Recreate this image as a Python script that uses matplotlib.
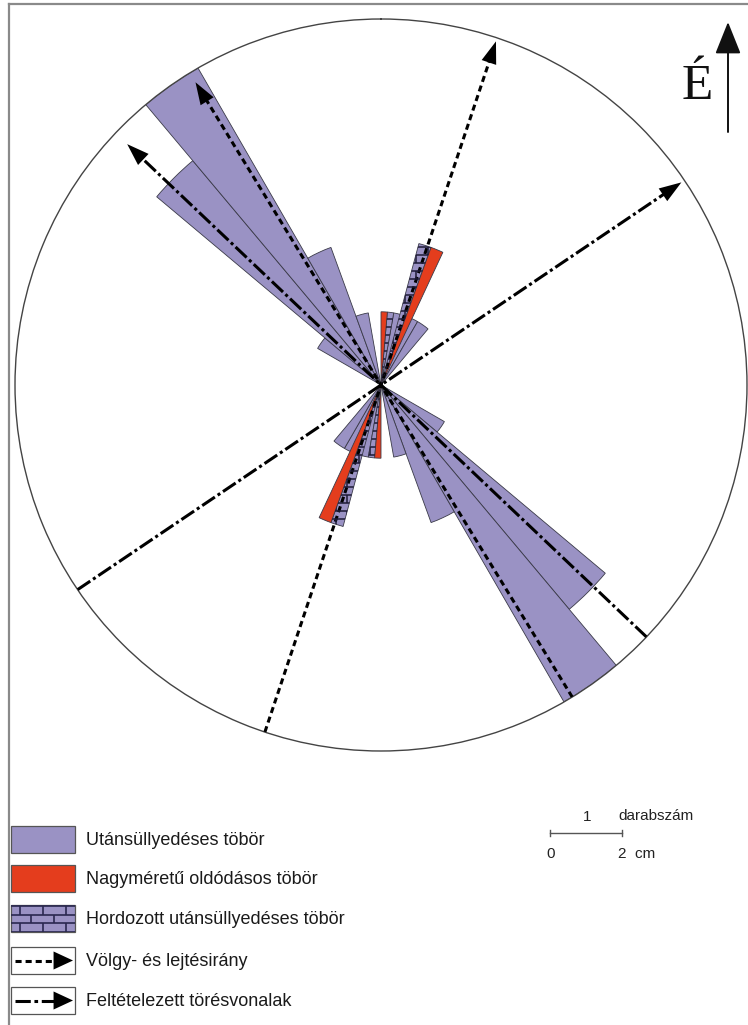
import numpy as np
import matplotlib
matplotlib.use("Agg")
import matplotlib.pyplot as plt
from matplotlib.patches import Rectangle, Polygon
from matplotlib.collections import LineCollection

plt.rcParams["font.family"] = ["Liberation Sans", "DejaVu Sans"]

W, H = 748, 1025

# Axial doline orientations, counted per sector (azimuth of sector start, deg, 0-180 half);
# the rose is drawn bidirectionally, so every sector is repeated at +180 deg.
subs_start = [10, 20, 30, 120, 130, 140, 150, 160]          # 10-degree sectors
subs_count = [1, 1, 1, 1, 4, 5, 2, 1]
large_start = [0, 20]                                       # 5-degree sectors
large_count = [1, 2]
carried_start = [5, 15]                                     # 5-degree sectors
carried_count = [1, 2]

# Direction lines (azimuth of the arrow head, radius of the head tip in counts)
valley_az = [18.5, 328.5]
valley_tip = [4.95, 4.85]
fault_az = [56.0, 313.5]
fault_tip = [4.95, 4.78]

legend_labels = ["Utánsüllyedéses töbör", "Nagyméretű oldódásos töbör",
                 "Hordozott utánsüllyedéses töbör", "Völgy- és lejtésirány",
                 "Feltételezett törésvonalak"]

LAV = "#9a92c4"
RED = "#e43d1d"
BRICK = "#1d1a36"
EDGE = "#3a3a48"
RMAX = 5.0

fig = plt.figure(figsize=(W / 100, H / 100), dpi=100)

# rose diagram: centre (381, 385) px, radius 366 px
cx, cy, rad = 381, 385, 366
ax = fig.add_axes([(cx - rad) / W, (H - cy - rad) / H, 2 * rad / W, 2 * rad / H],
                  projection="polar", zorder=1)
ax.set_theta_zero_location("N")
ax.set_theta_direction(-1)
ax.set_ylim(0, RMAX)
ax.grid(False)
ax.set_xticks([])
ax.set_yticks([])
ax.spines["polar"].set_linewidth(1.0)
ax.spines["polar"].set_color("#444444")


def both_ways(starts, counts):
    s = np.array(starts + [a + 180 for a in starts], float)
    c = np.array(counts + counts, float)
    return np.deg2rad(s), c


th, c = both_ways(subs_start, subs_count)
ax.bar(th, c, width=np.deg2rad(10), align="edge", color=LAV,
       edgecolor=EDGE, linewidth=0.6, zorder=2)

th_c, c_c = both_ways(carried_start, carried_count)
ax.bar(th_c, c_c, width=np.deg2rad(5), align="edge", color=LAV,
       edgecolor=EDGE, linewidth=0.6, zorder=3)

th, c = both_ways(large_start, large_count)
ax.bar(th, c, width=np.deg2rad(5), align="edge", color=RED,
       edgecolor=EDGE, linewidth=0.6, zorder=4)

# direction lines through the centre
head = "-|>,head_length=1.6,head_width=0.55"
for az, tip in zip(valley_az, valley_tip):
    t = np.deg2rad(az)
    ax.plot([t + np.pi, t + np.pi, t, t], [RMAX, 0, 0, tip - 0.25], color="black",
            lw=2.2, linestyle=(0, (2.0, 1.3)), zorder=6, dash_capstyle="butt")
    ax.annotate("", xy=(t, tip), xytext=(t, tip - 0.45),
                arrowprops=dict(arrowstyle=head, fc="black", ec="black", lw=0,
                                shrinkA=0, shrinkB=0), zorder=7)
for az, tip in zip(fault_az, fault_tip):
    t = np.deg2rad(az)
    ax.plot([t + np.pi, t + np.pi, t, t], [RMAX, 0, 0, tip - 0.25], color="black",
            lw=2.2, linestyle=(0, (5.0, 1.1, 1.0, 1.1)), zorder=6,
            dash_capstyle="butt")
    ax.annotate("", xy=(t, tip), xytext=(t, tip - 0.45),
                arrowprops=dict(arrowstyle=head, fc="black", ec="black", lw=0,
                                shrinkA=0, shrinkB=0), zorder=7)

# overlay in pixel units for the furniture
ov = fig.add_axes([0, 0, 1, 1], zorder=2)
ov.set_xlim(0, W)
ov.set_ylim(H, 0)
ov.axis("off")
ov.patch.set_alpha(0)


def brick_segments(x0, x1, y0, y1, bw=23.0, bh=8.0):
    segs = []
    rows = int(np.ceil((y1 - y0) / bh)) + 1
    for k in range(rows + 1):
        y = y0 + k * bh
        segs.append([(x0, y), (x1, y)])
        off = 0 if k % 2 == 0 else bw / 2
        for x in np.arange(x0 + off, x1 + bw, bw):
            segs.append([(x, y), (x, y + bh)])
    return segs


def sector(t0, t1, r):
    ts = np.linspace(t0, t1, 40)
    verts = [(t0, 0.0)] + [(t, r) for t in ts] + [(t1, 0.0)]
    return Polygon(verts, closed=True, transform=ax.transData)


# brick pattern clipped to each carried-doline petal
for t0, r in zip(th_c, c_c):
    clip = sector(t0, t0 + np.deg2rad(5), r)
    lc = LineCollection(brick_segments(cx - 160, cx + 160, cy - 170, cy + 170, 23, 8),
                        colors=BRICK, linewidths=1.1, zorder=5)
    ov.add_collection(lc)
    lc.set_clip_path(clip)

# frame
ov.plot([9, 9], [4, H], color="#8a8a8a", lw=1.6)
ov.plot([9, W], [4, 4], color="#8a8a8a", lw=1.6)

# north arrow
ov.annotate("", xy=(728, 22), xytext=(728, 132),
            arrowprops=dict(arrowstyle="-|>,head_length=2.0,head_width=0.8",
                            fc="#111111", ec="#111111", lw=1.4, shrinkA=0, shrinkB=0))
ov.text(697, 99, "É", family=["Liberation Serif", "DejaVu Serif"], fontsize=37,
        ha="center", va="baseline", color="#111111")

# legend
box_x, box_w = 11, 64
rows_y = [826, 865, 905, 947, 987]
box_h = 27
text_x = 86
fills = [LAV, RED, LAV, "white", "white"]
for i, (y, lab) in enumerate(zip(rows_y, legend_labels)):
    r = Rectangle((box_x, y), box_w, box_h, facecolor=fills[i], edgecolor="#555555", lw=0.9)
    ov.add_patch(r)
    if i == 2:
        lc = LineCollection(brick_segments(box_x - 14, box_x + box_w + 14, y + 1, y + box_h, 23, 8.5),
                            colors="#2a2850", linewidths=1.2)
        ov.add_collection(lc)
        lc.set_clip_path(r)
    if i >= 3:
        ym = y + box_h / 2
        ls = (0, (2.0, 1.3)) if i == 3 else (0, (5.0, 1.2, 1.2, 1.2))
        ov.plot([15, 54], [ym, ym], color="black", lw=2.2, linestyle=ls)
        ov.annotate("", xy=(73, ym), xytext=(50, ym),
                    arrowprops=dict(arrowstyle="-|>,head_length=1.4,head_width=0.65",
                                    fc="black", ec="black", lw=0, shrinkA=0, shrinkB=0))
    ov.text(text_x, y + box_h / 2 + 1, lab, fontsize=13, ha="left", va="center",
            color="#1a1a1a")

# scale bar
ov.plot([550, 622], [833, 833], color="#555555", lw=1.0)
ov.plot([550, 550], [830, 836], color="#555555", lw=1.0)
ov.plot([622, 622], [830, 836], color="#555555", lw=1.0)
ov.text(587, 817, "1", fontsize=11, ha="center", va="center", color="#222222")
ov.text(618, 816, "darabszám", fontsize=11, ha="left", va="center", color="#222222")
ov.text(551, 854, "0", fontsize=11, ha="center", va="center", color="#222222")
ov.text(618, 854, "2  cm", fontsize=11, ha="left", va="center", color="#222222")

fig.savefig("out.png", dpi=100, facecolor="white")
